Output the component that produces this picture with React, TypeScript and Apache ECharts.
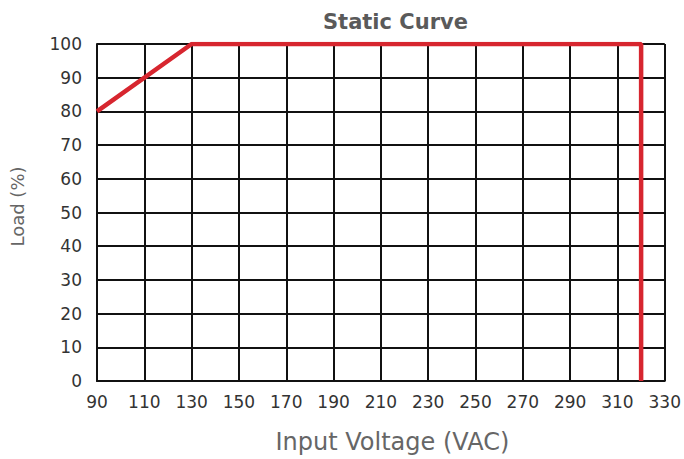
import React, { useEffect, useRef } from "react";
import * as echarts from "echarts";

const title = "Static Curve";
const xName = "Input Voltage (VAC)";
const yName = "Load (%)";
const voltage = [90, 130, 320, 320];
const load = [80, 100, 100, 0];

export default function App() {
  const ref = useRef<HTMLDivElement>(null);
  useEffect(() => {
    if (!ref.current) return;
    const chart = echarts.init(ref.current, null, { renderer: "svg" });
    const font = "'DejaVu Sans', 'Open Sans', sans-serif";
    chart.setOption({
      animation: false,
      title: {
        text: title,
        left: 318,
        top: 6,
        textStyle: { fontFamily: font, fontSize: 21, fontWeight: 600, color: "#5a5a5a" },
      },
      grid: { left: 97, right: 16, top: 44, bottom: 76 },
      xAxis: {
        type: "value",
        min: 90,
        max: 330,
        interval: 20,
        name: xName,
        nameLocation: "middle",
        nameGap: 49,
        nameTextStyle: { fontFamily: font, fontSize: 24, color: "#666", padding: [0, 0, 0, 23] },
        axisLine: { show: true, lineStyle: { color: "#111", width: 2 } },
        axisTick: { show: false },
        axisLabel: { fontFamily: font, fontSize: 17, color: "#333", margin: 12 },
        splitLine: { show: true, lineStyle: { color: "#111", width: 2 } },
      },
      yAxis: {
        type: "value",
        min: 0,
        max: 100,
        interval: 10,
        name: yName,
        nameLocation: "middle",
        nameGap: 71,
        nameTextStyle: { fontFamily: font, fontSize: 18, color: "#666", padding: [0, 0, 0, 12] },
        axisLine: { show: true, lineStyle: { color: "#111", width: 2 } },
        axisTick: { show: false },
        axisLabel: { fontFamily: font, fontSize: 17, color: "#333", margin: 15 },
        splitLine: { show: true, lineStyle: { color: "#111", width: 2 } },
      },
      series: [
        {
          type: "line",
          data: voltage.map((v, i) => [v, load[i]]),
          symbol: "none",
          lineStyle: { color: "#d7262f", width: 4.5 },
          z: 5,
        },
      ],
    });
    return () => chart.dispose();
  }, []);
  return <div ref={ref} style={{ width: 684, height: 459, position: "absolute", left: 0, top: 0 }} />;
}
